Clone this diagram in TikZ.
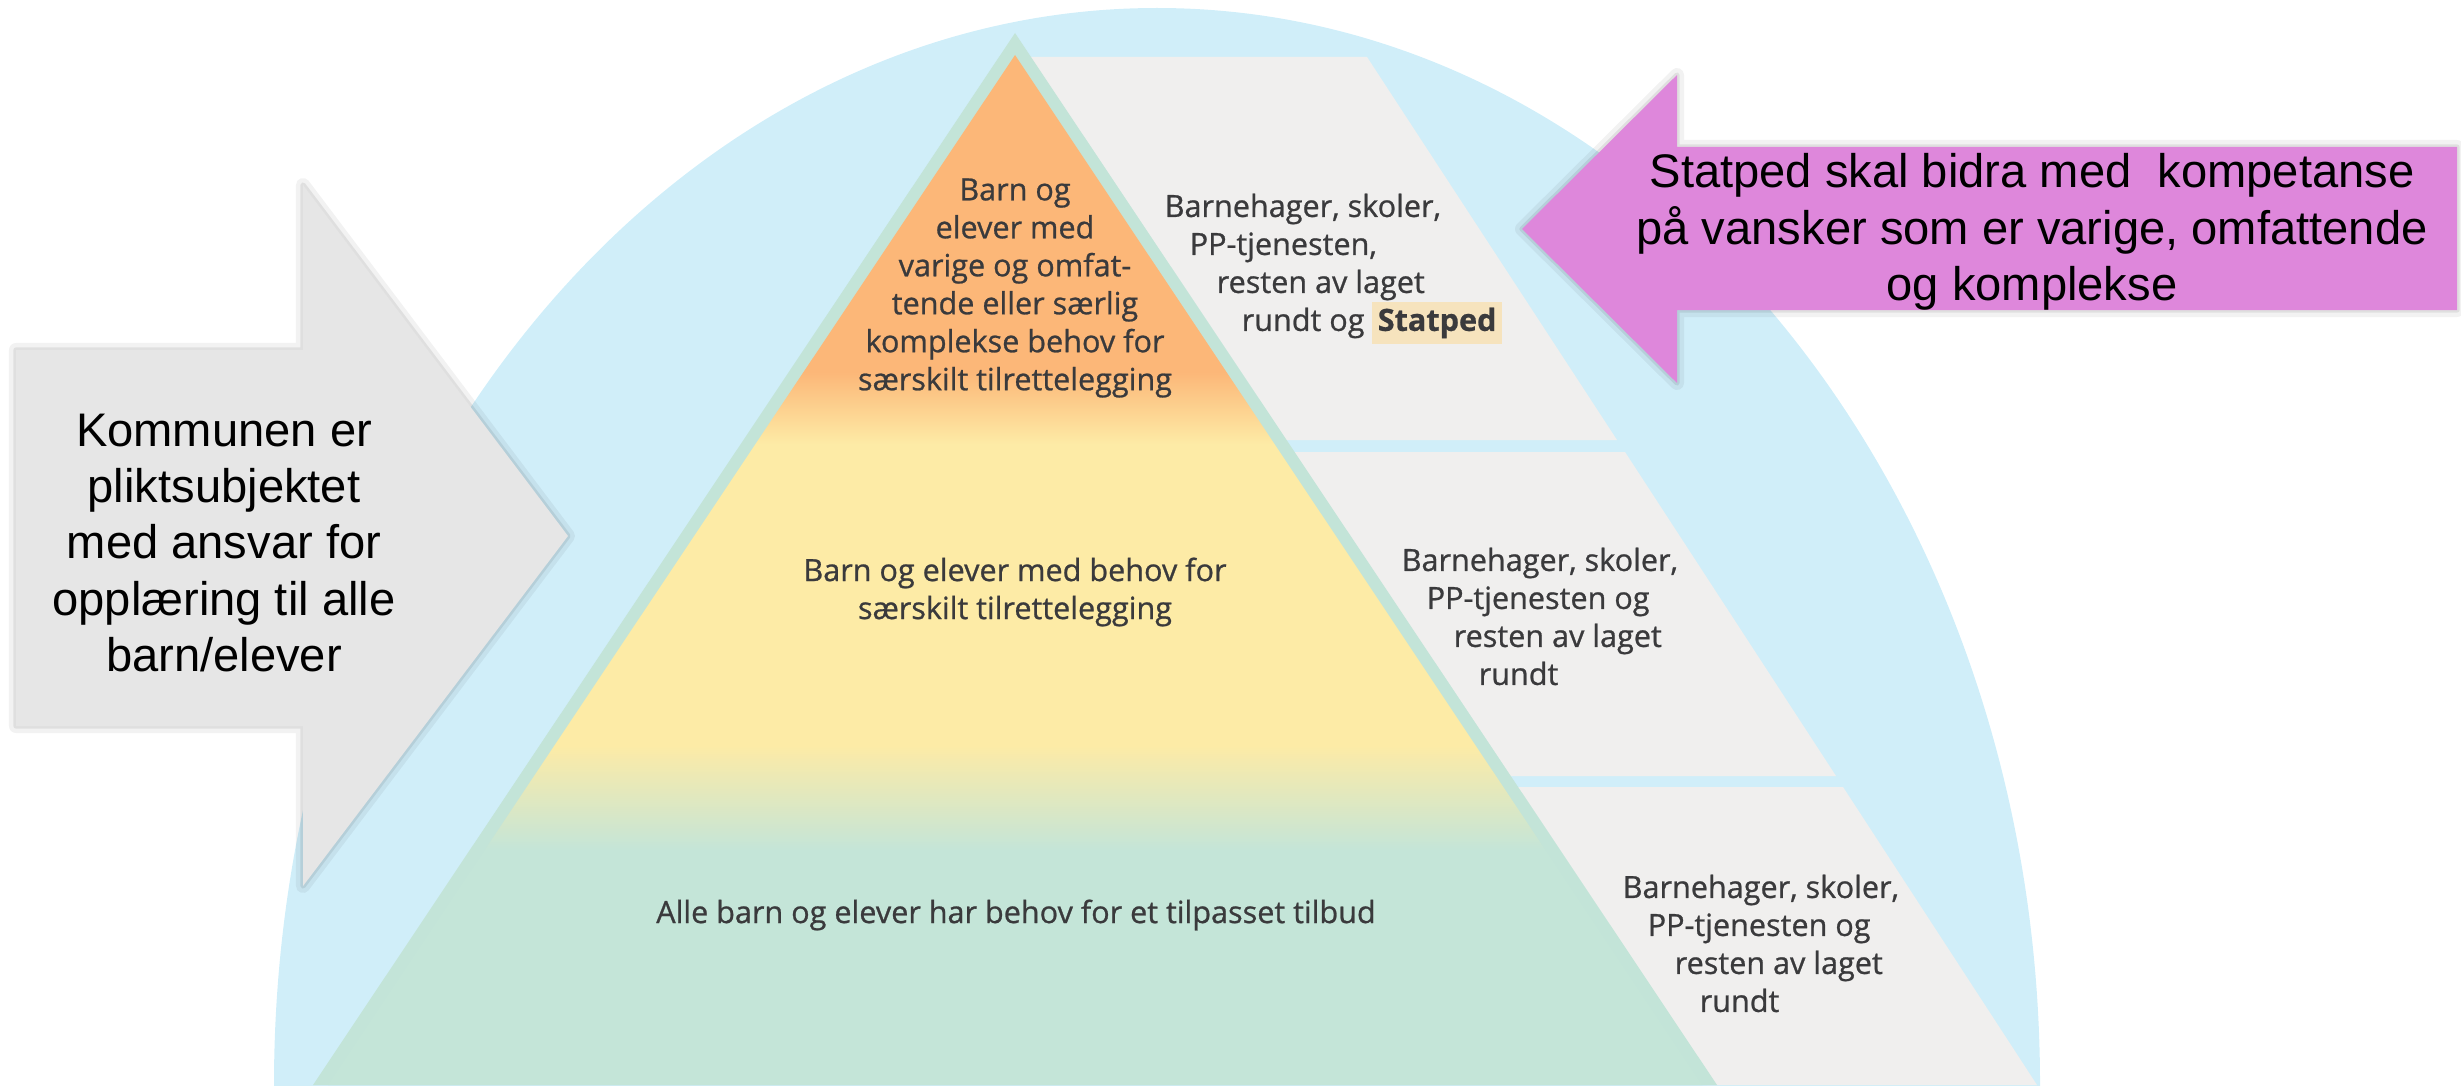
\documentclass[tikz,border=0pt]{standalone}
\usepackage{fontspec}
\setmainfont{Liberation Sans}
\newfontfamily\pyrfont[FakeBold=0.8]{Open Sans}
\usetikzlibrary{positioning}

\definecolor{bgblue}{HTML}{D0EEF9}
\definecolor{bandgray}{HTML}{F0EFEE}
\definecolor{pyrmint}{HTML}{C3E4D8}
\definecolor{porange}{HTML}{FCB778}
\definecolor{pyellow}{HTML}{FDEBA6}
\definecolor{pgreen}{HTML}{C4E5D8}
\definecolor{arrowgray}{HTML}{E6E6E6}
\definecolor{arrowpink}{HTML}{DE87DB}
\definecolor{hlbeige}{HTML}{F6E3BD}
\definecolor{pyrtext}{HTML}{3A3A3C}

\pgfdeclareverticalshading{pyramidshade}{100bp}{color(0bp)=(pgreen); color(36.4bp)=(pgreen); color(41.5bp)=(pyellow); color(56.1bp)=(pyellow); color(59.6bp)=(porange); color(100bp)=(porange)}

\newcommand{\statpedmark}{{\setlength{\fboxsep}{1.5pt}\colorbox{hlbeige}{\bfseries Statped}}}

\begin{document}
\begin{tikzpicture}[x=0.01cm,y=-0.01cm,
    arrowtext/.style={
      align=center,inner sep=0pt,
      font=\fontsize{13.4}{16}\selectfont
    },
    leveltext/.style={
      align=center,inner sep=0pt,text=pyrtext,
      font=\pyrfont\fontsize{8.7}{10.8}\selectfont
    },
    bandtext/.style={
      leveltext,align=left,anchor=north west
    },
    band/.style={
      fill=bandgray
    },
    bigarrow/.style={
      preaction={draw=black,draw opacity=.05,line width=4pt,line join=round},
      preaction={draw=black,draw opacity=.08,line width=1.5pt,line join=round}
    }]
      \useasboundingbox (0,0) rectangle (2461,1085);

      % background
      \fill[bgblue] (1157,1085) ellipse [x radius=883,y radius=1077];

      % side bands
      \fill[band] (1021,57) -- (1367,57) -- (1617,440) -- (1277,440) -- cycle;
      \fill[band] (1285,452) -- (1625,452) -- (1836,776) -- (1501,776) -- cycle;
      \fill[band] (1508,787) -- (1843,787) -- (2037,1085) -- (1707,1085) -- cycle;

      % pyramid
      \fill[pyrmint] (1015,33) -- (1717,1085) -- (313,1085) -- cycle;
      \shade[shading=pyramidshade] (1015,55) -- (1702,1085) -- (328,1085) -- cycle;

      \node[leveltext] (level3) at (1015,288)
        {Barn og\\elever med\\varige og omfat-\\tende eller særlig\\komplekse behov for\\særskilt tilrettelegging};
      \node[leveltext] (level2) at (1015,592)
        {Barn og elever med behov for\\særskilt tilrettelegging};
      \node[leveltext] (level1) at (1016,915)
        {Alle barn og elever har behov for et tilpasset tilbud};

      \node[bandtext] (band3) at (1164,193)
        {Barnehager, skoler,\\\hspace*{.25cm}PP-tjenesten,\\\hspace*{.52cm}resten av laget\\\hspace*{.77cm}rundt og \statpedmark};
      \node[bandtext] (band2) at (1401,547)
        {Barnehager, skoler,\\\hspace*{.25cm}PP-tjenesten og\\\hspace*{.52cm}resten av laget\\\hspace*{.77cm}rundt};
      \node[bandtext] (band1) at (1622,874)
        {Barnehager, skoler,\\\hspace*{.25cm}PP-tjenesten og\\\hspace*{.52cm}resten av laget\\\hspace*{.77cm}rundt};

      % arrows
      \fill[arrowgray,bigarrow] (16,350) -- (303,350) -- (303,185) -- (568,536)
        -- (303,886) -- (303,726) -- (16,726) -- cycle;
      \node[arrowtext] (kommune) at (224,543)
        {Kommunen er\\pliktsubjektet\\med ansvar for\\opplæring til alle\\barn/elever};

      \fill[arrowpink,bigarrow] (2457,147) -- (1677,147) -- (1677,75) -- (1522,229)
        -- (1677,383) -- (1677,310) -- (2457,310) -- cycle;
      \node[arrowtext] (statped) at (2032,232)
        {Statped skal bidra med\ \ kompetanse\\på vansker som er varige, omfattende\\og komplekse};
  \end{tikzpicture}
\end{document}
